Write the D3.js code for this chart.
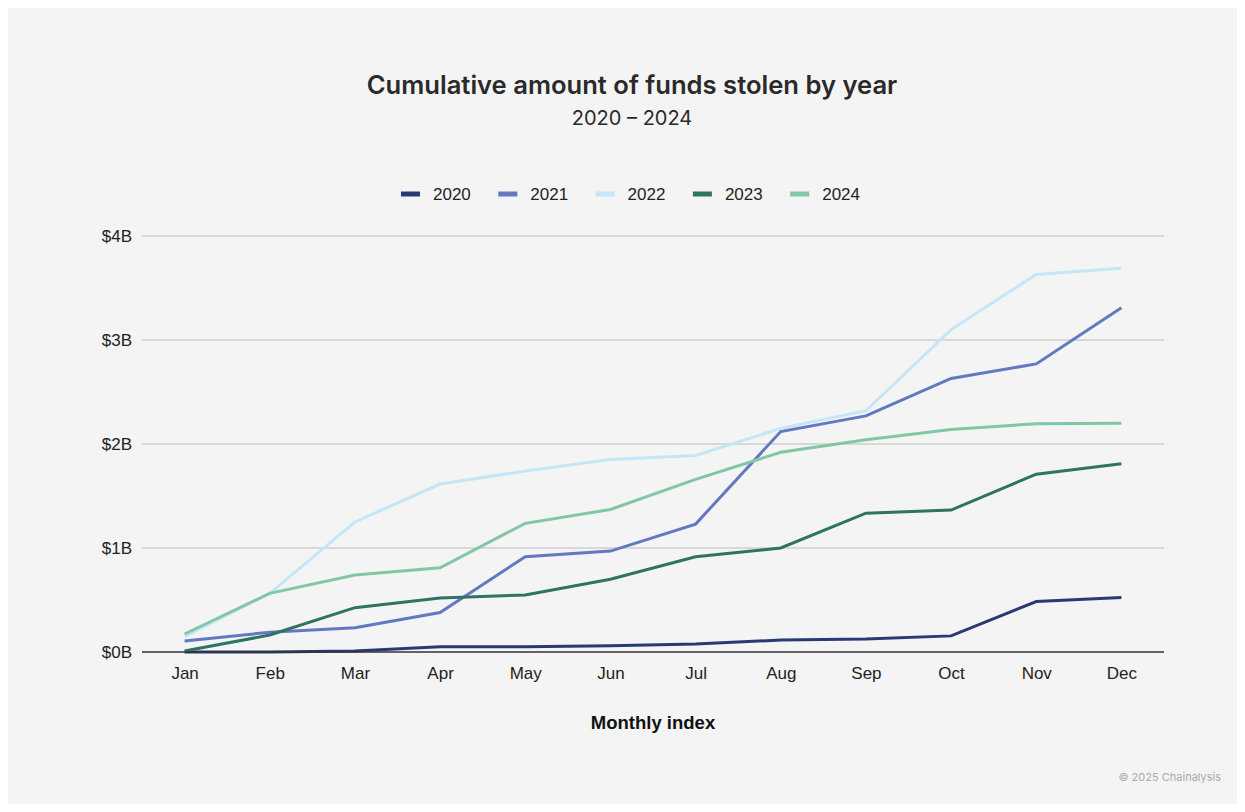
<!DOCTYPE html>
<html><head><meta charset="utf-8">
<script src="https://cdn.jsdelivr.net/npm/d3@7"></script>
<style>
html,body{margin:0;padding:0;background:#fff;}
svg{display:block;}
</style></head>
<body>
<svg id="c" width="1245" height="812"></svg>
<script>
const months = ["Jan","Feb","Mar","Apr","May","Jun","Jul","Aug","Sep","Oct","Nov","Dec"];
const years = ["2020","2021","2022","2023","2024"];
const colors = ["#283a74","#6279c2","#c4e6f6","#2f7362","#82c7a3"];
const yTicks = [0,1,2,3,4];
const v2020 = [0.0,0.0,0.01,0.05,0.05,0.06,0.077,0.115,0.125,0.155,0.485,0.525];
const v2021 = [0.106,0.19,0.234,0.38,0.916,0.97,1.23,2.12,2.27,2.63,2.77,3.31];
const v2022 = [0.148,0.564,1.25,1.615,1.74,1.85,1.89,2.15,2.32,3.10,3.63,3.69];
const v2023 = [0.01,0.163,0.426,0.52,0.548,0.70,0.916,1.0,1.335,1.365,1.71,1.81];
const v2024 = [0.173,0.564,0.74,0.81,1.237,1.37,1.66,1.92,2.04,2.14,2.195,2.2];
const series = [v2020,v2021,v2022,v2023,v2024];

const svg = d3.select("#c");
svg.append("rect").attr("x",8).attr("y",8).attr("width",1229).attr("height",796).attr("fill","#f4f4f4");

const cx = 632;
svg.append("text").attr("x",cx).attr("y",94).attr("text-anchor","middle")
  .attr("font-family","Inter, 'Noto Sans', sans-serif").attr("font-weight","600")
  .attr("font-size",25.6).attr("fill","#2a2a2a").text("Cumulative amount of funds stolen by year");
svg.append("text").attr("x",cx).attr("y",125).attr("text-anchor","middle")
  .attr("font-family","Inter, 'Noto Sans', sans-serif")
  .attr("font-size",20).attr("fill","#2a2a2a").text("2020 – 2024");

const x = d3.scalePoint().domain(months).range([142,1164]).padding(0.5);
const y = d3.scaleLinear().domain([0,4]).range([652,236]);

// gridlines
const grid = svg.append("g");
grid.selectAll("line").data(yTicks.filter(d=>d>0)).join("line")
  .attr("x1",142).attr("x2",1164).attr("y1",d=>y(d)).attr("y2",d=>y(d))
  .attr("stroke","#cfcfcf").attr("stroke-width",1.5);

// y axis labels
const yAxis = svg.append("g").attr("transform","translate(142,0)")
  .call(d3.axisLeft(y).tickValues(yTicks).tickFormat(d=>"$"+d+"B").tickSize(0).tickPadding(10));
yAxis.select(".domain").remove();
yAxis.selectAll("text").attr("font-family","'Liberation Sans', Arial, sans-serif").attr("font-size",17).attr("fill","#222");

// x axis
const xAxis = svg.append("g").attr("transform","translate(0,652)")
  .call(d3.axisBottom(x).tickSize(0).tickPadding(15));
xAxis.select(".domain").remove();
xAxis.selectAll("text").attr("font-family","'Liberation Sans', Arial, sans-serif").attr("font-size",17).attr("fill","#222");

svg.append("text").attr("x",653).attr("y",729).attr("text-anchor","middle")
  .attr("font-family","'Liberation Sans', Arial, sans-serif").attr("font-weight","700")
  .attr("font-size",18.5).attr("fill","#111").text("Monthly index");

// lines
const line = d3.line().x((d,i)=>x(months[i])).y(d=>y(d));
svg.append("g").selectAll("path").data(series).join("path")
  .attr("d",line).attr("fill","none")
  .attr("stroke",(d,i)=>colors[i]).attr("stroke-width",3).attr("stroke-linejoin","miter");

// baseline
svg.append("line").attr("x1",142).attr("x2",1164).attr("y1",652).attr("y2",652)
  .attr("stroke","#333").attr("stroke-width",1.5);

// legend
const lg = svg.append("g");
const lgX0 = 401, lgStep = 97.3;
years.forEach((yr,i)=>{
  const gx = lgX0 + i*lgStep;
  lg.append("rect").attr("x",gx).attr("y",191.5).attr("width",19).attr("height",5).attr("fill",colors[i]);
  lg.append("text").attr("x",gx+32).attr("y",200).attr("font-family","'Liberation Sans', Arial, sans-serif")
    .attr("font-size",17).attr("fill","#222").text(yr);
});

svg.append("text").attr("x",1221).attr("y",781).attr("text-anchor","end")
  .attr("font-family","Inter, 'Noto Sans', sans-serif").attr("font-size",11).attr("fill","#aaa")
  .text("© 2025 Chainalysis");
</script>
</body></html>
